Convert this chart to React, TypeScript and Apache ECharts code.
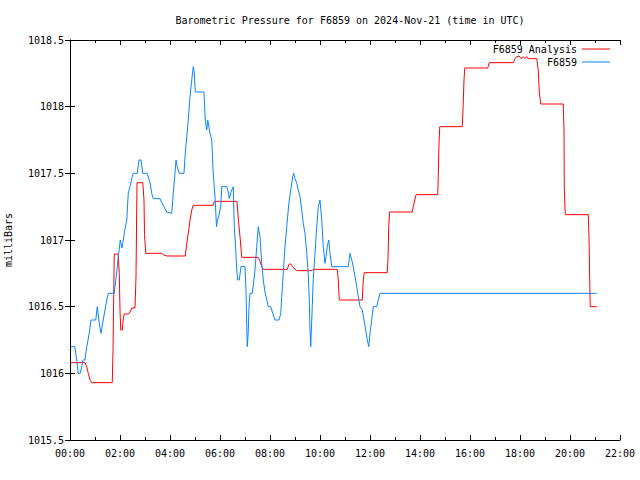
import React, { useEffect, useRef } from "react";
import * as echarts from "echarts";

const titleText = "Barometric Pressure for F6859 on 2024-Nov-21 (time in UTC)";
const yAxisName = "milliBars";
const analysisName = "F6859 Analysis";
const stationName = "F6859";

const xTickHours = [0, 2, 4, 6, 8, 10, 12, 14, 16, 18, 20, 22];

// F6859 Analysis (hours UTC, mbar)
const analysisHours = [
  0.03, 0.6, 0.67, 0.73, 0.8, 0.87, 1.69, 1.72, 1.77, 1.93, 1.97, 2.0, 2.03, 2.09, 2.13, 2.17,
  2.33, 2.4, 2.47, 2.6, 2.64, 2.68, 2.91, 2.96, 2.98, 3.03, 3.67, 3.73, 3.87, 4.61, 4.64, 4.69,
  4.75, 4.8, 4.87, 4.93, 5.72, 5.78, 6.68, 6.74, 6.8, 6.87, 7.53, 7.6, 7.67, 7.73, 8.69, 8.77,
  8.83, 8.93, 9.07, 9.67, 9.73, 10.69, 10.73, 10.77, 11.69, 11.73, 11.77, 12.69, 12.72, 12.75,
  12.78, 13.69, 13.73, 13.84, 14.71, 14.73, 14.76, 14.79, 15.69, 15.72, 15.76, 15.79, 16.71,
  16.77, 17.73, 17.8, 17.87, 17.97, 18.04, 18.13, 18.2, 18.27, 18.33, 18.67, 18.73, 18.77,
  18.83, 19.73, 19.76, 19.77, 19.81, 20.73, 20.76, 20.79, 20.81, 21.07,
];
const analysisValues = [
  1016.08, 1016.08, 1016.05, 1016.0, 1015.95, 1015.93, 1015.93, 1016.17, 1016.895, 1016.895,
  1016.75, 1016.475, 1016.325, 1016.325, 1016.41, 1016.445, 1016.445, 1016.46, 1016.49, 1016.49,
  1016.725, 1017.43, 1017.43, 1017.3, 1017.04, 1016.9, 1016.9, 1016.89, 1016.88, 1016.88,
  1016.925, 1017.0, 1017.075, 1017.15, 1017.225, 1017.26, 1017.26, 1017.29, 1017.29, 1017.14,
  1017.025, 1016.87, 1016.87, 1016.84, 1016.8, 1016.78, 1016.78, 1016.82, 1016.82, 1016.795,
  1016.77, 1016.77, 1016.78, 1016.78, 1016.7, 1016.55, 1016.55, 1016.7, 1016.755, 1016.755,
  1016.86, 1017.1, 1017.21, 1017.21, 1017.25, 1017.34, 1017.34, 1017.475, 1017.725, 1017.85,
  1017.85, 1017.975, 1018.2, 1018.29, 1018.29, 1018.33, 1018.33, 1018.36, 1018.375, 1018.38,
  1018.36, 1018.375, 1018.36, 1018.375, 1018.36, 1018.36, 1018.275, 1018.11, 1018.02, 1018.02,
  1017.825, 1017.4, 1017.19, 1017.19, 1017.01, 1016.675, 1016.5, 1016.5,
];

// F6859 station observations (hours UTC, mbar)
const stationHours = [
  0.03, 0.19, 0.27, 0.33, 0.41, 0.47, 0.52, 0.6, 0.67, 0.77, 0.84, 1.03, 1.09, 1.17, 1.24, 1.33,
  1.4, 1.47, 1.53, 1.77, 1.8, 1.87, 1.93, 1.97, 2.01, 2.08, 2.13, 2.2, 2.27, 2.33, 2.4, 2.47,
  2.53, 2.69, 2.76, 2.84, 2.91, 3.09, 3.2, 3.27, 3.33, 3.6, 3.67, 3.87, 4.07, 4.13, 4.2, 4.24,
  4.29, 4.37, 4.56, 4.6, 4.67, 4.73, 4.8, 4.87, 4.93, 4.97, 5.01, 5.36, 5.41, 5.47, 5.51, 5.6,
  5.67, 5.73, 5.8, 5.86, 5.89, 5.96, 6.03, 6.07, 6.27, 6.33, 6.37, 6.44, 6.53, 6.57, 6.63, 6.67,
  6.71, 6.77, 6.84, 7.0, 7.04, 7.07, 7.09, 7.13, 7.16, 7.2, 7.29, 7.33, 7.4, 7.47, 7.53, 7.6,
  7.67, 7.73, 7.8, 7.87, 7.93, 8.03, 8.11, 8.2, 8.36, 8.43, 8.47, 8.53, 8.6, 8.67, 8.73, 8.77,
  8.83, 8.91, 8.95, 9.0, 9.07, 9.13, 9.2, 9.27, 9.33, 9.4, 9.47, 9.53, 9.57, 9.6, 9.63, 9.65,
  9.69, 9.73, 9.8, 9.87, 9.93, 10.0, 10.07, 10.13, 10.2, 10.24, 10.29, 10.35, 10.4, 10.47,
  11.13, 11.2, 11.27, 11.33, 11.4, 11.47, 11.53, 11.6, 11.69, 11.76, 11.83, 11.89, 11.95, 12.0,
  12.07, 12.13, 12.27, 12.33, 12.4, 21.07,
];
const stationValues = [
  1016.2, 1016.2, 1016.1, 1016.0, 1016.0, 1016.05, 1016.1, 1016.1, 1016.2, 1016.3, 1016.4,
  1016.4, 1016.5, 1016.375, 1016.3, 1016.4, 1016.475, 1016.55, 1016.6, 1016.6, 1016.65, 1016.76,
  1016.875, 1016.93, 1017.0, 1016.94, 1017.0, 1017.08, 1017.15, 1017.35, 1017.4, 1017.46,
  1017.5, 1017.5, 1017.6, 1017.6, 1017.5, 1017.5, 1017.43, 1017.35, 1017.31, 1017.31, 1017.28,
  1017.21, 1017.2, 1017.35, 1017.5, 1017.6, 1017.55, 1017.5, 1017.5, 1017.625, 1017.775,
  1017.9, 1018.075, 1018.2, 1018.3, 1018.26, 1018.11, 1018.11, 1017.9, 1017.825, 1017.9,
  1017.8, 1017.75, 1017.5, 1017.325, 1017.1, 1017.14, 1017.19, 1017.25, 1017.4, 1017.4,
  1017.36, 1017.31, 1017.36, 1017.4, 1017.11, 1016.925, 1016.775, 1016.7, 1016.7, 1016.8,
  1016.8, 1016.625, 1016.36, 1016.2, 1016.31, 1016.5, 1016.6, 1016.6, 1016.66, 1016.775,
  1016.95, 1017.1, 1017.025, 1016.825, 1016.7, 1016.61, 1016.55, 1016.5, 1016.5, 1016.45,
  1016.4, 1016.4, 1016.45, 1016.575, 1016.75, 1016.95, 1017.1, 1017.225, 1017.3, 1017.375,
  1017.475, 1017.5, 1017.46, 1017.425, 1017.375, 1017.325, 1017.225, 1017.125, 1017.05,
  1016.9, 1016.75, 1016.55, 1016.325, 1016.2, 1016.3, 1016.5, 1016.7, 1016.9, 1017.1, 1017.25,
  1017.3, 1017.15, 1016.95, 1016.825, 1016.875, 1016.95, 1017.0, 1016.9, 1016.8, 1016.8,
  1016.9, 1016.85, 1016.8, 1016.725, 1016.65, 1016.575, 1016.5, 1016.475, 1016.4, 1016.325,
  1016.25, 1016.2, 1016.3, 1016.4, 1016.5, 1016.5, 1016.55, 1016.6, 1016.6,
];

const FONT = "DejaVu Sans Mono";
const RED = "#ff0000";
const BLUE = "#0a84ff";

function hourLabel(v: number): string {
  const h = Math.round(v);
  return (h < 10 ? "0" + h : String(h)) + ":00";
}

function pressureLabel(v: number): string {
  const r = Math.round(v * 10) / 10;
  return Number.isInteger(r) ? String(r) : r.toFixed(1);
}

export default function App() {
  const ref = useRef<HTMLDivElement>(null);

  useEffect(() => {
    if (!ref.current) return;
    const chart = echarts.init(ref.current, null, { renderer: "svg" });
    const xMin = xTickHours[0];
    const xMax = xTickHours[xTickHours.length - 1];
    const axisLine = { show: true, lineStyle: { color: "#000", width: 1 } };
    const tick = { show: true, inside: true, length: 5, lineStyle: { color: "#000" } };
    const minor = { show: true, splitNumber: 2, length: 3, lineStyle: { color: "#000" } };
    const label = { fontFamily: FONT, fontSize: 10, color: "#000" };

    chart.setOption({
      animation: false,
      backgroundColor: "#fff",
      title: {
        text: titleText,
        left: 345,
        textAlign: "center",
        top: 10,
        textStyle: { fontFamily: FONT, fontSize: 10, fontWeight: "normal", color: "#000" },
      },
      legend: [
        {
          data: [analysisName],
          orient: "vertical",
          align: "right",
          right: 30,
          top: 44,
          padding: 0,
          icon: "rect",
          itemWidth: 28,
          itemHeight: 1,
          textStyle: label,
          selectedMode: false,
        },
        {
          data: [stationName],
          orient: "vertical",
          align: "right",
          right: 30,
          top: 57,
          padding: 0,
          icon: "rect",
          itemWidth: 28,
          itemHeight: 1,
          textStyle: label,
          selectedMode: false,
        },
      ],
      grid: {
        left: 70,
        right: 20,
        top: 40,
        bottom: 40,
        containLabel: false,
        outerBoundsMode: "none",
      },
      xAxis: [
        {
          type: "value",
          position: "bottom",
          min: xMin,
          max: xMax,
          interval: 2,
          axisLine,
          axisTick: tick,
          minorTick: minor,
          splitLine: { show: false },
          axisLabel: { ...label, margin: 8, formatter: hourLabel },
        },
        {
          type: "value",
          position: "top",
          min: xMin,
          max: xMax,
          interval: 2,
          axisLine,
          axisTick: tick,
          minorTick: minor,
          splitLine: { show: false },
          axisLabel: { show: false },
        },
      ],
      yAxis: [
        {
          type: "value",
          position: "left",
          min: 1015.5,
          max: 1018.5,
          interval: 0.5,
          name: yAxisName,
          nameLocation: "middle",
          nameRotate: 90,
          nameGap: 57,
          nameTextStyle: label,
          axisLine,
          axisTick: tick,
          splitLine: { show: false },
          axisLabel: { ...label, margin: 6, formatter: pressureLabel },
        },
        {
          type: "value",
          position: "right",
          min: 1015.5,
          max: 1018.5,
          interval: 0.5,
          axisLine,
          axisTick: tick,
          splitLine: { show: false },
          axisLabel: { show: false },
        },
      ],
      series: [
        {
          name: analysisName,
          type: "line",
          data: analysisHours.map((h, i) => [h, analysisValues[i]]),
          showSymbol: false,
          symbol: "none",
          color: RED,
          lineStyle: { color: RED, width: 1 },
          silent: true,
        },
        {
          name: stationName,
          type: "line",
          data: stationHours.map((h, i) => [h, stationValues[i]]),
          showSymbol: false,
          symbol: "none",
          color: BLUE,
          lineStyle: { color: BLUE, width: 1 },
          silent: true,
        },
      ],
    });
    return () => chart.dispose();
  }, []);

  return (
    <div
      ref={ref}
      style={{ position: "fixed", left: 0, top: 0, width: 640, height: 480, background: "#fff" }}
    />
  );
}
